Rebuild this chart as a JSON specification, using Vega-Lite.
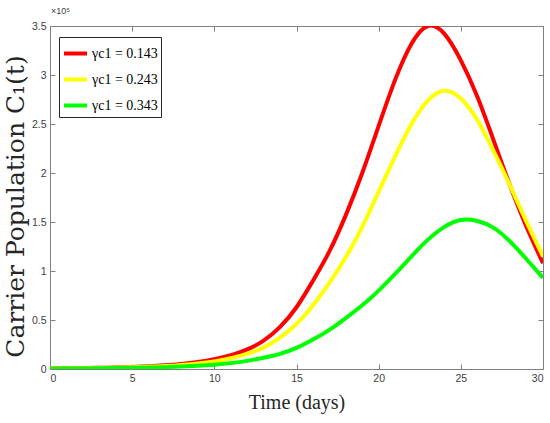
{
  "$schema": "https://vega.github.io/schema/vega-lite/v6.json",
  "width": 493,
  "height": 343,
  "autosize": "none",
  "padding": {"left": 50, "top": 26, "right": 7, "bottom": 54},
  "background": "white",
  "title": {"text": "×10⁵", "anchor": "start", "frame": "group", "fontSize": 9, "font": "Liberation Sans", "fontWeight": "normal", "color": "#404040", "offset": 5, "dx": 1},
  "config": {
    "view": {"stroke": null},
    "axis": {"grid": false, "domainColor": "#808080", "tickColor": "#808080", "labelColor": "#404040", "labelFont": "Liberation Sans", "labelFontSize": 10.5, "titleFontWeight": "normal", "titleColor": "#262626"}
  },
  "datasets": {
    "curves": [
      {"day": 0, "C1_1e5": 0.005, "gamma": "γc1 = 0.143"},
      {"day": 1, "C1_1e5": 0.007, "gamma": "γc1 = 0.143"},
      {"day": 2, "C1_1e5": 0.009, "gamma": "γc1 = 0.143"},
      {"day": 3, "C1_1e5": 0.012, "gamma": "γc1 = 0.143"},
      {"day": 4, "C1_1e5": 0.016, "gamma": "γc1 = 0.143"},
      {"day": 5, "C1_1e5": 0.021, "gamma": "γc1 = 0.143"},
      {"day": 6, "C1_1e5": 0.028, "gamma": "γc1 = 0.143"},
      {"day": 7, "C1_1e5": 0.038, "gamma": "γc1 = 0.143"},
      {"day": 8, "C1_1e5": 0.052, "gamma": "γc1 = 0.143"},
      {"day": 9, "C1_1e5": 0.072, "gamma": "γc1 = 0.143"},
      {"day": 10, "C1_1e5": 0.10, "gamma": "γc1 = 0.143"},
      {"day": 11, "C1_1e5": 0.14, "gamma": "γc1 = 0.143"},
      {"day": 12, "C1_1e5": 0.20, "gamma": "γc1 = 0.143"},
      {"day": 13, "C1_1e5": 0.29, "gamma": "γc1 = 0.143"},
      {"day": 14, "C1_1e5": 0.43, "gamma": "γc1 = 0.143"},
      {"day": 15, "C1_1e5": 0.63, "gamma": "γc1 = 0.143"},
      {"day": 16, "C1_1e5": 0.90, "gamma": "γc1 = 0.143"},
      {"day": 17, "C1_1e5": 1.20, "gamma": "γc1 = 0.143"},
      {"day": 18, "C1_1e5": 1.57, "gamma": "γc1 = 0.143"},
      {"day": 19, "C1_1e5": 2.0, "gamma": "γc1 = 0.143"},
      {"day": 20, "C1_1e5": 2.48, "gamma": "γc1 = 0.143"},
      {"day": 21, "C1_1e5": 2.95, "gamma": "γc1 = 0.143"},
      {"day": 22, "C1_1e5": 3.32, "gamma": "γc1 = 0.143"},
      {"day": 23, "C1_1e5": 3.50, "gamma": "γc1 = 0.143"},
      {"day": 24, "C1_1e5": 3.42, "gamma": "γc1 = 0.143"},
      {"day": 25, "C1_1e5": 3.15, "gamma": "γc1 = 0.143"},
      {"day": 26, "C1_1e5": 2.78, "gamma": "γc1 = 0.143"},
      {"day": 27, "C1_1e5": 2.33, "gamma": "γc1 = 0.143"},
      {"day": 28, "C1_1e5": 1.87, "gamma": "γc1 = 0.143"},
      {"day": 29, "C1_1e5": 1.45, "gamma": "γc1 = 0.143"},
      {"day": 30, "C1_1e5": 1.08, "gamma": "γc1 = 0.143"},
      {"day": 0, "C1_1e5": 0.004, "gamma": "γc1 = 0.243"},
      {"day": 1, "C1_1e5": 0.006, "gamma": "γc1 = 0.243"},
      {"day": 2, "C1_1e5": 0.008, "gamma": "γc1 = 0.243"},
      {"day": 3, "C1_1e5": 0.010, "gamma": "γc1 = 0.243"},
      {"day": 4, "C1_1e5": 0.014, "gamma": "γc1 = 0.243"},
      {"day": 5, "C1_1e5": 0.018, "gamma": "γc1 = 0.243"},
      {"day": 6, "C1_1e5": 0.024, "gamma": "γc1 = 0.243"},
      {"day": 7, "C1_1e5": 0.031, "gamma": "γc1 = 0.243"},
      {"day": 8, "C1_1e5": 0.042, "gamma": "γc1 = 0.243"},
      {"day": 9, "C1_1e5": 0.056, "gamma": "γc1 = 0.243"},
      {"day": 10, "C1_1e5": 0.077, "gamma": "γc1 = 0.243"},
      {"day": 11, "C1_1e5": 0.11, "gamma": "γc1 = 0.243"},
      {"day": 12, "C1_1e5": 0.155, "gamma": "γc1 = 0.243"},
      {"day": 13, "C1_1e5": 0.22, "gamma": "γc1 = 0.243"},
      {"day": 14, "C1_1e5": 0.32, "gamma": "γc1 = 0.243"},
      {"day": 15, "C1_1e5": 0.46, "gamma": "γc1 = 0.243"},
      {"day": 16, "C1_1e5": 0.65, "gamma": "γc1 = 0.243"},
      {"day": 17, "C1_1e5": 0.88, "gamma": "γc1 = 0.243"},
      {"day": 18, "C1_1e5": 1.14, "gamma": "γc1 = 0.243"},
      {"day": 19, "C1_1e5": 1.45, "gamma": "γc1 = 0.243"},
      {"day": 20, "C1_1e5": 1.81, "gamma": "γc1 = 0.243"},
      {"day": 21, "C1_1e5": 2.17, "gamma": "γc1 = 0.243"},
      {"day": 22, "C1_1e5": 2.50, "gamma": "γc1 = 0.243"},
      {"day": 23, "C1_1e5": 2.74, "gamma": "γc1 = 0.243"},
      {"day": 24, "C1_1e5": 2.84, "gamma": "γc1 = 0.243"},
      {"day": 25, "C1_1e5": 2.76, "gamma": "γc1 = 0.243"},
      {"day": 26, "C1_1e5": 2.54, "gamma": "γc1 = 0.243"},
      {"day": 27, "C1_1e5": 2.22, "gamma": "γc1 = 0.243"},
      {"day": 28, "C1_1e5": 1.87, "gamma": "γc1 = 0.243"},
      {"day": 29, "C1_1e5": 1.50, "gamma": "γc1 = 0.243"},
      {"day": 30, "C1_1e5": 1.15, "gamma": "γc1 = 0.243"},
      {"day": 0, "C1_1e5": 0.003, "gamma": "γc1 = 0.343"},
      {"day": 1, "C1_1e5": 0.004, "gamma": "γc1 = 0.343"},
      {"day": 2, "C1_1e5": 0.005, "gamma": "γc1 = 0.343"},
      {"day": 3, "C1_1e5": 0.007, "gamma": "γc1 = 0.343"},
      {"day": 4, "C1_1e5": 0.009, "gamma": "γc1 = 0.343"},
      {"day": 5, "C1_1e5": 0.012, "gamma": "γc1 = 0.343"},
      {"day": 6, "C1_1e5": 0.015, "gamma": "γc1 = 0.343"},
      {"day": 7, "C1_1e5": 0.019, "gamma": "γc1 = 0.343"},
      {"day": 8, "C1_1e5": 0.025, "gamma": "γc1 = 0.343"},
      {"day": 9, "C1_1e5": 0.033, "gamma": "γc1 = 0.343"},
      {"day": 10, "C1_1e5": 0.044, "gamma": "γc1 = 0.343"},
      {"day": 11, "C1_1e5": 0.06, "gamma": "γc1 = 0.343"},
      {"day": 12, "C1_1e5": 0.083, "gamma": "γc1 = 0.343"},
      {"day": 13, "C1_1e5": 0.115, "gamma": "γc1 = 0.343"},
      {"day": 14, "C1_1e5": 0.155, "gamma": "γc1 = 0.343"},
      {"day": 15, "C1_1e5": 0.215, "gamma": "γc1 = 0.343"},
      {"day": 16, "C1_1e5": 0.30, "gamma": "γc1 = 0.343"},
      {"day": 17, "C1_1e5": 0.40, "gamma": "γc1 = 0.343"},
      {"day": 18, "C1_1e5": 0.52, "gamma": "γc1 = 0.343"},
      {"day": 19, "C1_1e5": 0.65, "gamma": "γc1 = 0.343"},
      {"day": 20, "C1_1e5": 0.80, "gamma": "γc1 = 0.343"},
      {"day": 21, "C1_1e5": 0.97, "gamma": "γc1 = 0.343"},
      {"day": 22, "C1_1e5": 1.15, "gamma": "γc1 = 0.343"},
      {"day": 23, "C1_1e5": 1.32, "gamma": "γc1 = 0.343"},
      {"day": 24, "C1_1e5": 1.45, "gamma": "γc1 = 0.343"},
      {"day": 25, "C1_1e5": 1.52, "gamma": "γc1 = 0.343"},
      {"day": 26, "C1_1e5": 1.51, "gamma": "γc1 = 0.343"},
      {"day": 27, "C1_1e5": 1.44, "gamma": "γc1 = 0.343"},
      {"day": 28, "C1_1e5": 1.30, "gamma": "γc1 = 0.343"},
      {"day": 29, "C1_1e5": 1.12, "gamma": "γc1 = 0.343"},
      {"day": 30, "C1_1e5": 0.93, "gamma": "γc1 = 0.343"}
    ]
  },
  "data": {"name": "curves"},
  "layer": [
    {
      "mark": {"type": "line", "interpolate": "natural", "strokeWidth": 4, "clip": true},
      "encoding": {
        "x": {"field": "day", "type": "quantitative", "scale": {"domain": [0, 30], "nice": false},
              "axis": {"orient": "bottom", "title": "Time (days)", "titleFont": "Liberation Serif", "titleFontSize": 20, "titlePadding": 9, "values": [0, 5, 10, 15, 20, 25, 30], "tickSize": -5, "labelPadding": 9}},
        "y": {"field": "C1_1e5", "type": "quantitative", "scale": {"domain": [0, 3.5], "nice": false},
              "axis": {"orient": "left", "title": "Carrier Population C₁(t)", "titleFont": "DejaVu Serif", "titleFontSize": 25, "titlePadding": 3, "titleY": 180, "format": ".1~f", "values": [0, 0.5, 1, 1.5, 2, 2.5, 3, 3.5], "tickSize": -5, "labelPadding": 9}},
        "color": {"field": "gamma", "type": "nominal",
                  "scale": {"domain": ["γc1 = 0.143", "γc1 = 0.243", "γc1 = 0.343"], "range": ["#FF0000", "#FFFF00", "#00FF00"]},
                  "legend": {"orient": "none", "legendX": 9, "legendY": 11, "title": null, "fillColor": "white", "strokeColor": "#262626", "padding": 3, "symbolType": "stroke", "symbolSize": 529, "symbolStrokeWidth": 4, "labelFont": "Liberation Serif", "labelFontSize": 14, "labelColor": "#000000", "labelOffset": 3, "rowPadding": 4}}
      }
    },
    {
      "mark": {"type": "line", "strokeOpacity": 0},
      "encoding": {
        "x": {"field": "day", "type": "quantitative", "axis": {"orient": "top", "title": null, "labels": false, "values": [0, 5, 10, 15, 20, 25, 30], "tickSize": -5}},
        "y": {"field": "C1_1e5", "type": "quantitative", "axis": {"orient": "right", "title": null, "labels": false, "values": [0, 0.5, 1, 1.5, 2, 2.5, 3, 3.5], "tickSize": -5}},
        "detail": {"field": "gamma"}
      }
    }
  ],
  "resolve": {"axis": {"x": "independent", "y": "independent"}}
}
